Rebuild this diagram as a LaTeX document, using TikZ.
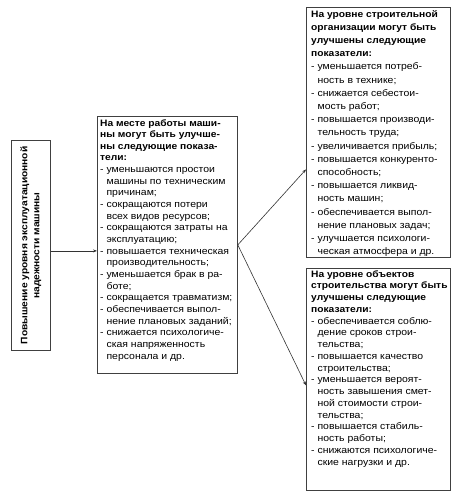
\documentclass[tikz,border=0pt]{standalone}
\usepackage{fontspec}
\setmainfont{Liberation Sans}[FakeStretch=1.1]
\usetikzlibrary{arrows.meta}
\tikzset{
  box/.style={draw=black!75, line width=0.8pt, anchor=north west, inner sep=0pt},
  txt/.style={anchor=north west, align=left, inner sep=0pt, font=\def\lead{#1}\fontsize{9.5}{#1}\selectfont},
  conn/.style={draw=black!80, line width=0.6pt, -{Stealth[length=4pt,width=3pt]}}
}
\def\lead{12}
\newcommand{\ci}{\phantom{- }}
\newcommand{\hd}[1]{{\bfseries\fontsize{9.3}{\lead}\selectfont #1}}
\begin{document}
\begin{tikzpicture}[x=1pt,y=-1pt]
\useasboundingbox (0,0) rectangle (453,495);
% left box
\node[box, minimum width=39pt, minimum height=210pt] (lft) at (11,140) {};
\node[rotate=90, align=center, inner sep=0pt, font=\bfseries\fontsize{9.3}{12}\selectfont] (ltxt) at (lft.center) {Повышение уровня эксплуатационной\\надежности машины};
% middle box
\node[box, minimum width=140pt, minimum height=257pt] (mid) at (97,116) {};
\node[txt=11.65] (mtxt) at (100,119) {\hd{На месте работы маши-}\\
\hd{ны могут быть улучше-}\\
\hd{ны следующие показа-}\\
\hd{тели:}\\
- уменьшаются простои\\
\ci машины по техническим\\
\ci причинам;\\
- сокращаются потери\\
\ci всех видов ресурсов;\\
- сокращаются затраты на\\
\ci эксплуатацию;\\
- повышается техническая\\
\ci производительность;\\
- уменьшается брак в ра-\\
\ci боте;\\
- сокращается травматизм;\\
- обеспечивается выпол-\\
\ci нение плановых заданий;\\
- снижается психологиче-\\
\ci ская напряженность\\
\ci персонала и др.};
% top right box
\node[box, minimum width=144pt, minimum height=250pt] (top) at (306,7) {};
\node[txt=13.2] (ttxt) at (311,10) {\hd{На уровне строительной}\\
\hd{организации могут быть}\\
\hd{улучшены следующие}\\
\hd{показатели:}\\
- уменьшается потреб-\\
\ci ность в технике;\\
- снижается себестои-\\
\ci мость работ;\\
- повышается производи-\\
\ci тельность труда;\\
- увеличивается прибыль;\\
- повышается конкуренто-\\
\ci способность;\\
- повышается ликвид-\\
\ci ность машин;\\
- обеспечивается выпол-\\
\ci нение плановых задач;\\
- улучшается психологи-\\
\ci ческая атмосфера и др.};
% bottom right box
\node[box, minimum width=144pt, minimum height=222pt] (bot) at (306,268) {};
\node[txt=11.75] (btxt) at (311,270) {\hd{На уровне объектов}\\
\hd{строительства могут быть}\\
\hd{улучшены следующие}\\
\hd{показатели:}\\
- обеспечивается соблю-\\
\ci дение сроков строи-\\
\ci тельства;\\
- повышается качество\\
\ci строительства;\\
- уменьшается вероят-\\
\ci ность завышения смет-\\
\ci ной стоимости строи-\\
\ci тельства;\\
- повышается стабиль-\\
\ci ность работы;\\
- снижаются психологиче-\\
\ci ские нагрузки и др.};
% connectors
\draw[conn] ([yshift=-5.5pt]lft.east) -- ([yshift=-5.5pt]lft.east -| mid.west);
\draw[conn] (mid.east) -- ([yshift=-37pt]top.west);
\draw[conn] (mid.east) -- ([yshift=-6pt]bot.west);
\end{tikzpicture}
\end{document}
